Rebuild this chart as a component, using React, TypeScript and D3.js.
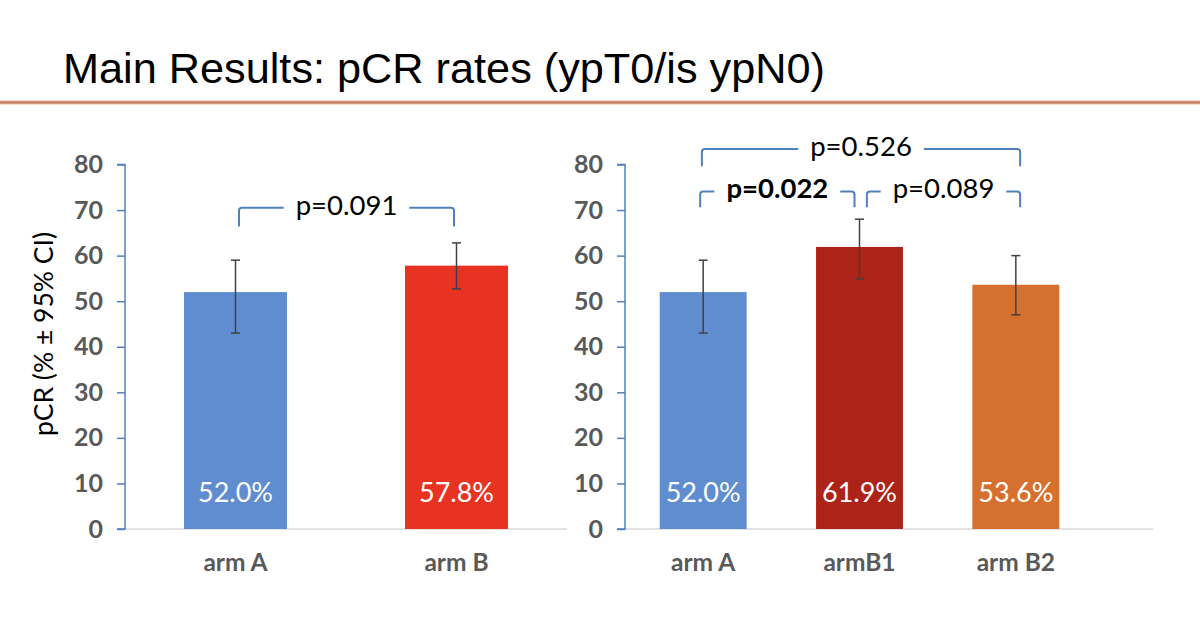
import React, { useEffect, useRef } from "react";
import * as d3 from "d3";

// ---------- data ----------
const leftCategories = ["arm A", "arm B"];
const leftValues = [52.0, 57.8];
const leftCiLow = [43.0, 52.7];
const leftCiHigh = [59.0, 62.8];
const leftColors = ["#5f8dd0", "#e83323"];

const rightCategories = ["arm A", "armB1", "arm B2"];
const rightValues = [52.0, 61.9, 53.6];
const rightCiLow = [43.0, 54.9, 47.0];
const rightCiHigh = [59.0, 68.0, 60.0];
const rightColors = ["#5f8dd0", "#ad2318", "#d6702e"];

const yTicks = [0, 10, 20, 30, 40, 50, 60, 70, 80];

// brackets: from index, to index, top level, bottom level (data units), label, bold
const leftBrackets = [{ a: 0, b: 1, top: 70.5, bottom: 66.4, label: "p=0.091", bold: false }];
const rightBrackets = [
  { a: 0, b: 2, top: 83.4, bottom: 79.6, label: "p=0.526", bold: false },
  { a: 0, b: 1, top: 74.1, bottom: 70.6, label: "p=0.022", bold: true },
  { a: 1, b: 2, top: 74.1, bottom: 70.6, label: "p=0.089", bold: false },
];
// pixel insets of bracket ends from bar centres (layout)
const leftBracketInset = [[3.5, -2.5]];
const rightBracketInset = [[-1.3, 4.3], [-3, -5], [7.4, 4.3]];

const FONT = "Lato, 'Open Sans', sans-serif";

export default function App() {
  const ref = useRef<SVGSVGElement | null>(null);

  useEffect(() => {
    const svg = d3.select(ref.current);
    svg.selectAll("*").remove();

    // Title
    svg
      .append("text")
      .attr("x", 63)
      .attr("y", 83)
      .attr("font-family", "'Liberation Sans Narrow', 'Liberation Sans', Arial, sans-serif")
      .attr("font-size", 43)
      .attr("fill", "#000")
      .attr("textLength", 762)
      .attr("lengthAdjust", "spacingAndGlyphs")
      .text("Main Results: pCR rates (ypT0/is ypN0)");

    const grad = svg
      .append("defs")
      .append("linearGradient")
      .attr("id", "rule")
      .attr("x1", 0)
      .attr("y1", 0)
      .attr("x2", 0)
      .attr("y2", 1);
    grad.append("stop").attr("offset", "0%").attr("stop-color", "#e3b29a");
    grad.append("stop").attr("offset", "50%").attr("stop-color", "#c47c60");
    grad.append("stop").attr("offset", "100%").attr("stop-color", "#e8b9a3");
    svg.append("rect").attr("x", 0).attr("y", 100.5).attr("width", 1200).attr("height", 4).attr("fill", "url(#rule)");

    const y = d3.scaleLinear().domain([0, 80]).range([529, 164.5]);

    // Y axis title
    svg
      .append("text")
      .attr("transform", `translate(53,334) rotate(-90)`)
      .attr("text-anchor", "middle")
      .attr("font-family", FONT)
      .attr("font-size", 26.5)
      .attr("fill", "#000")
      .text("pCR (% ± 95% CI)");

    function panel(
      axisX: number,
      bandEnd: number,
      lineEnd: number,
      cats: string[],
      vals: number[],
      lo: number[],
      hi: number[],
      colors: string[],
      padInner: number,
      brackets: typeof rightBrackets,
      insets: number[][]
    ) {
      const g = svg.append("g");
      const x = d3
        .scaleBand<string>()
        .domain(cats)
        .range([axisX, bandEnd])
        .paddingInner(padInner)
        .paddingOuter(padInner / 2);

      // x axis baseline
      g.append("line")
        .attr("x1", axisX)
        .attr("x2", lineEnd)
        .attr("y1", y(0))
        .attr("y2", y(0))
        .attr("stroke", "#d9d9d9")
        .attr("stroke-width", 1.5);

      // bars
      g.selectAll("rect.bar")
        .data(vals)
        .join("rect")
        .attr("class", "bar")
        .attr("x", (_, i) => x(cats[i])!)
        .attr("width", x.bandwidth())
        .attr("y", (d) => y(d))
        .attr("height", (d) => y(0) - y(d))
        .attr("fill", (_, i) => colors[i]);

      // y axis
      const axis = d3.axisLeft(y).tickValues(yTicks).tickSize(8).tickPadding(14);
      const ag = g.append("g").attr("transform", `translate(${axisX},0)`).call(axis);
      ag.select(".domain").attr("stroke", "#4f81bd").attr("stroke-width", 1.5).attr("d", `M-8,${y(80)}H0V${y(0)}H-8`);
      ag.selectAll(".tick line").attr("stroke", "#4f81bd").attr("stroke-width", 1.5);
      ag.selectAll(".tick text")
        .attr("font-family", FONT)
        .attr("font-weight", "bold")
        .attr("font-size", 25)
        .attr("fill", "#595959");

      // error bars
      const cx = (i: number) => x(cats[i])! + x.bandwidth() / 2;
      vals.forEach((_, i) => {
        const c = cx(i);
        const eg = g.append("g").attr("stroke", "#404040").attr("stroke-width", 1.5);
        eg.append("line").attr("x1", c).attr("x2", c).attr("y1", y(lo[i])).attr("y2", y(hi[i]));
        eg.append("line").attr("x1", c - 4.5).attr("x2", c + 4.5).attr("y1", y(lo[i])).attr("y2", y(lo[i]));
        eg.append("line").attr("x1", c - 4.5).attr("x2", c + 4.5).attr("y1", y(hi[i])).attr("y2", y(hi[i]));
      });

      // value labels
      g.selectAll("text.val")
        .data(vals)
        .join("text")
        .attr("class", "val")
        .attr("x", (_, i) => cx(i))
        .attr("y", 502)
        .attr("text-anchor", "middle")
        .attr("font-family", FONT)
        .attr("font-size", 27)
        .attr("fill", "#fff")
        .text((d) => `${d.toFixed(1)}%`);

      // category labels
      g.selectAll("text.cat")
        .data(cats)
        .join("text")
        .attr("class", "cat")
        .attr("x", (_, i) => cx(i))
        .attr("y", 571)
        .attr("text-anchor", "middle")
        .attr("font-family", FONT)
        .attr("font-weight", "bold")
        .attr("font-size", 24.5)
        .attr("fill", "#595959")
        .text((d) => d);

      // brackets
      brackets.forEach((b, k) => {
        const x1 = cx(b.a) + insets[k][0];
        const x2 = cx(b.b) + insets[k][1];
        const yt = y(b.top);
        const yb = y(b.bottom);
        const mid = (x1 + x2) / 2;
        const t = g
          .append("text")
          .attr("x", mid)
          .attr("y", yt + 7)
          .attr("text-anchor", "middle")
          .attr("font-family", FONT)
          .attr("font-size", 27.5)
          .attr("font-weight", b.bold ? "bold" : "normal")
          .attr("fill", "#000")
          .text(b.label);
        const w = (t.node() as SVGTextElement).getComputedTextLength();
        const gap = 12;
        const r = 3;
        const bg = g
          .append("g")
          .attr("fill", "none")
          .attr("stroke", "#4f81bd")
          .attr("stroke-width", 2);
        bg.append("path").attr(
          "d",
          `M${x1},${yb}V${yt + r}Q${x1},${yt} ${x1 + r},${yt}H${mid - w / 2 - gap}`
        );
        bg.append("path").attr(
          "d",
          `M${mid + w / 2 + gap},${yt}H${x2 - r}Q${x2},${yt} ${x2},${yt + r}V${yb}`
        );
      });
    }

    panel(125, 567, 567, leftCategories, leftValues, leftCiLow, leftCiHigh, leftColors, 0.534, leftBrackets, leftBracketInset);
    panel(625, 1094, 1153, rightCategories, rightValues, rightCiLow, rightCiHigh, rightColors, 0.444, rightBrackets, rightBracketInset);
  }, []);

  return (
    <div style={{ position: "absolute", left: 0, top: 0 }}>
      <svg ref={ref} width={1200} height={621} style={{ display: "block", background: "#fff" }} />
    </div>
  );
}
